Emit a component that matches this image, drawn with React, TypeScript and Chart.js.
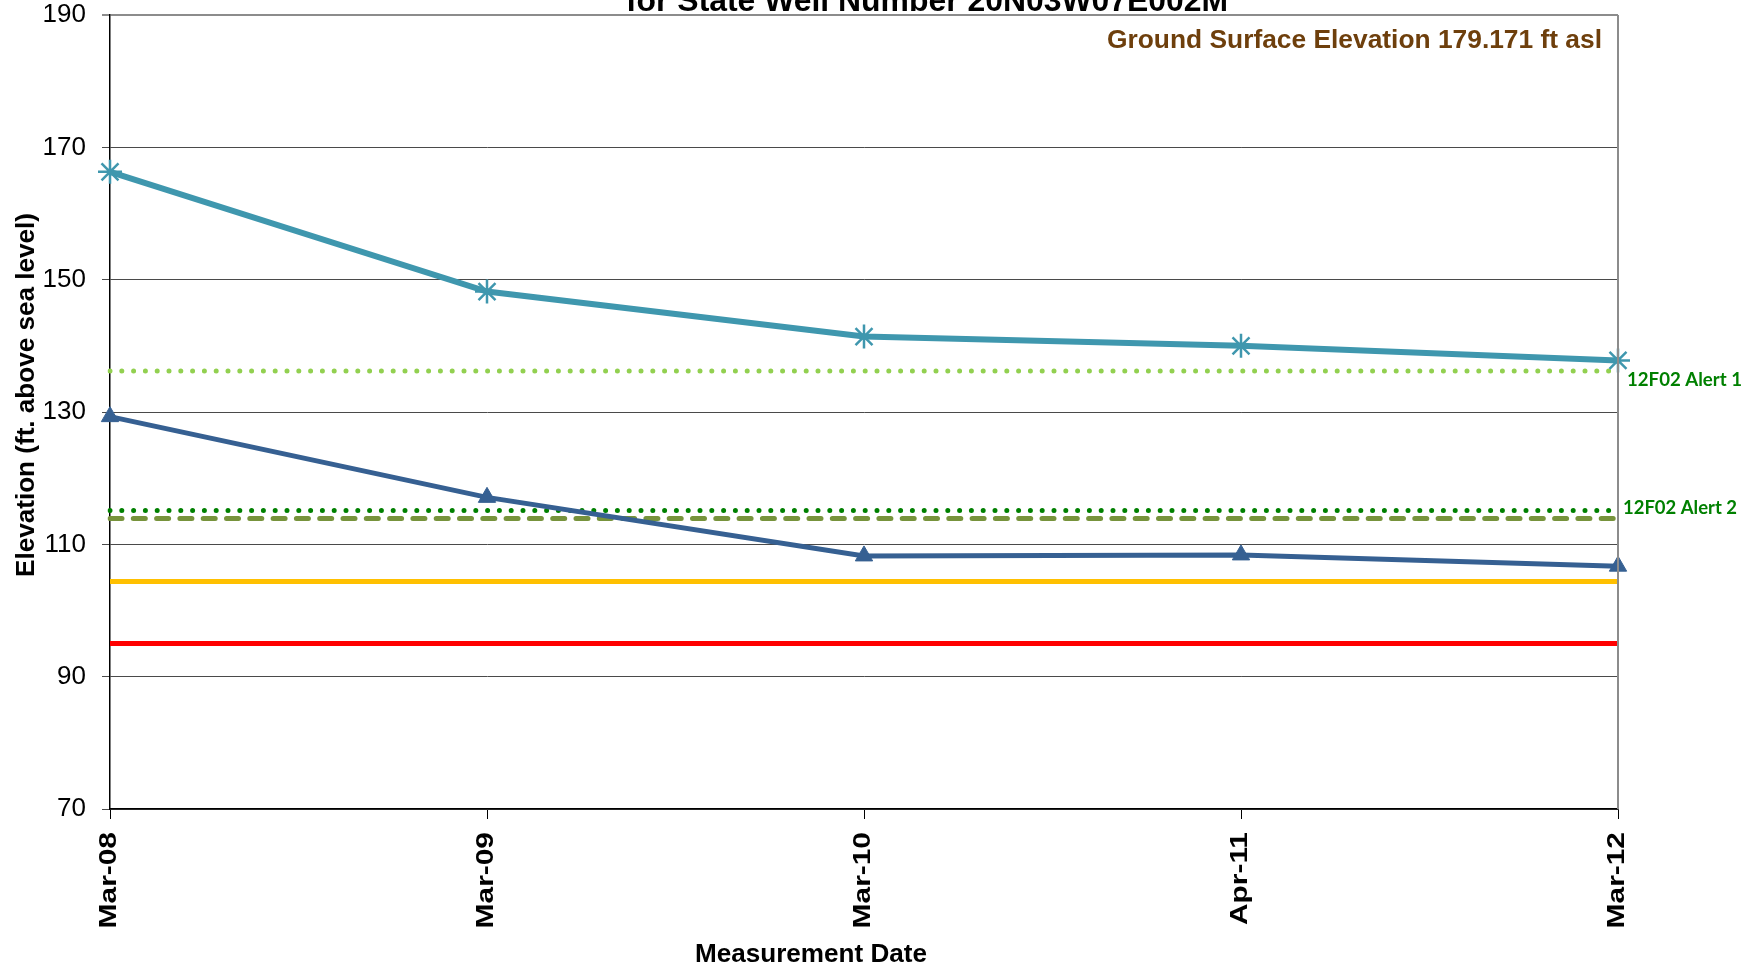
import React, { useEffect, useRef } from "react";
import { Chart, registerables } from "chart.js";

Chart.register(...registerables);

// ---- Data ----
const categories = ["Mar-08", "Mar-09", "Mar-10", "Apr-11", "Mar-12"];
const shallowWell = [166.3, 148.2, 141.4, 140.0, 137.8];
const deepWell = [129.3, 117.1, 108.25, 108.4, 106.7];
const alert1Line = [136.2, 136.2, 136.2, 136.2, 136.2];
const alert2Line = [115.1, 115.1, 115.1, 115.1, 115.1];
const dashedLine = [113.9, 113.9, 113.9, 113.9, 113.9];
const goldLine = [104.4, 104.4, 104.4, 104.4, 104.4];
const redLine = [95.0, 95.0, 95.0, 95.0, 95.0];
const yTicks = [70, 90, 110, 130, 150, 170, 190];

const titleText = "for State Well Number 20N03W07E002M";
const groundText = "Ground Surface Elevation 179.171 ft asl";
const alert1Label = "12F02 Alert 1";
const alert2Label = "12F02 Alert 2";
const xTitle = "Measurement Date";
const yTitle = "Elevation (ft. above sea level)";

const ARIAL = '"Liberation Sans", Arial, sans-serif';

function drawText(
  ctx: CanvasRenderingContext2D,
  text: string,
  x: number,
  y: number,
  font: string,
  color: string,
  align: CanvasTextAlign,
  opts: { rotate?: boolean; width?: number; sx?: number } = {}
) {
  ctx.save();
  ctx.font = font;
  ctx.fillStyle = color;
  ctx.textBaseline = "alphabetic";
  ctx.textAlign = align;
  ctx.translate(x, y);
  if (opts.rotate) ctx.rotate(-Math.PI / 2);
  let s = 1;
  if (opts.width) s = opts.width / ctx.measureText(text).width;
  if (opts.sx) s = opts.sx;
  ctx.scale(s, 1);
  ctx.fillText(text, 0, 0);
  ctx.restore();
}

const decorPlugin = {
  id: "decor",
  afterDraw(chart: any) {
    const ctx: CanvasRenderingContext2D = chart.ctx;
    const area = chart.chartArea;
    const xs = chart.scales.x;
    const ys = chart.scales.y;

    // right border of plot area
    ctx.save();
    ctx.strokeStyle = "#8c8c8c";
    ctx.lineWidth = 2;
    ctx.beginPath();
    ctx.moveTo(area.right, area.top);
    ctx.lineTo(area.right, area.bottom);
    ctx.stroke();
    ctx.restore();

    // x tick labels (rotated)
    categories.forEach((c, i) => {
      const px = xs.getPixelForTick(i);
      drawText(ctx, c, px + 6, area.bottom + 23, `bold 23px ${ARIAL}`, "#000", "right", {
        rotate: true,
        sx: 1.3,
      });
    });

    // title (cut at top)
    drawText(ctx, titleText, 927, 11, `bold 32px ${ARIAL}`, "#000", "center", { width: 602 });

    // ground surface text
    drawText(ctx, groundText, 1107, 48, `bold 26px ${ARIAL}`, "#6e3f0c", "left", { width: 495 });

    // alert labels
    const a1y = ys.getPixelForValue(alert1Line[alert1Line.length - 1]);
    const a2y = ys.getPixelForValue(alert2Line[alert2Line.length - 1]);
    drawText(ctx, alert1Label, area.right + 9, a1y + 15, `bold 18.5px Lato, "Open Sans", sans-serif`, "#008000", "left", {
      width: 115,
    });
    drawText(ctx, alert2Label, area.right + 5, a2y + 3, `bold 18.5px Lato, "Open Sans", sans-serif`, "#008000", "left", {
      width: 114,
    });

    // axis titles
    drawText(ctx, xTitle, 811, 962, `bold 26px ${ARIAL}`, "#000", "center", { width: 232 });
    drawText(ctx, yTitle, 34, 395, `bold 26px ${ARIAL}`, "#000", "center", { rotate: true, width: 364 });
  },
};

export default function App() {
  const ref = useRef<HTMLCanvasElement | null>(null);

  useEffect(() => {
    if (!ref.current) return;
    const flat = (data: number[], color: string, extra: any = {}) => ({
      data,
      borderColor: color,
      backgroundColor: color,
      borderWidth: 5,
      pointRadius: 0,
      pointHoverRadius: 0,
      fill: false,
      tension: 0,
      order: 2,
      ...extra,
    });
    const chart = new Chart(ref.current, {
      type: "line",
      data: {
        labels: categories,
        datasets: [
          {
            data: shallowWell,
            borderColor: "#3f97ae",
            backgroundColor: "#3f97ae",
            borderWidth: 6,
            pointStyle: "star",
            pointRadius: 12,
            pointBorderWidth: 2.5,
            pointBorderColor: "#3f97ae",
            tension: 0,
            clip: false,
            order: 0,
          },
          {
            data: deepWell,
            borderColor: "#366092",
            backgroundColor: "#366092",
            borderWidth: 5,
            pointStyle: "triangle",
            pointRadius: 10,
            pointBorderWidth: 1,
            pointBorderColor: "#366092",
            pointBackgroundColor: "#366092",
            tension: 0,
            clip: false,
            order: 0,
          },
          flat(alert1Line, "#92d050", { borderDash: [0, 11.8], borderCapStyle: "round" }),
          flat(alert2Line, "#008000", { borderDash: [0, 11.8], borderCapStyle: "round" }),
          flat(dashedLine, "#77933c", { borderDash: [12, 11.3], borderCapStyle: "round", order: 3 }),
          flat(goldLine, "#ffc000"),
          flat(redLine, "#ff0000"),
        ] as any,
      },
      options: {
        responsive: false,
        animation: false,
        events: [],
        layout: { padding: { top: 15, right: 144, left: 0, bottom: 0 } },
        plugins: {
          legend: { display: false },
          tooltip: { enabled: false },
          title: { display: false },
        },
        scales: {
          x: {
            type: "category",
            offset: false,
            grid: {
              display: true,
              drawOnChartArea: false,
              drawTicks: true,
              tickLength: 10,
              color: "#000",
              lineWidth: 1,
            },
            border: { display: true, color: "#000", width: 1.5 },
            ticks: { display: false },
            afterFit: (s: any) => {
              s.height = 159;
              s.paddingLeft = 0;
              s.paddingRight = 0;
            },
          },
          y: {
            min: yTicks[0],
            max: yTicks[yTicks.length - 1],
            afterBuildTicks: (s: any) => {
              s.ticks = yTicks.map((v) => ({ value: v }));
            },
            ticks: {
              color: "#000",
              padding: 16,
              font: { family: ARIAL, size: 26, lineHeight: 1 },
            },
            grid: {
              color: (c: any) => (c.tick && c.tick.value === 190 ? "#8c8c8c" : "#4a4a4a"),
              lineWidth: (c: any) => (c.tick && c.tick.value === 190 ? 2 : 1),
              tickLength: 8,
              drawTicks: true,
            },
            border: { display: true, color: "#000", width: 1.5 },
            afterFit: (s: any) => {
              s.width = 110;
              s.paddingTop = 0;
              s.paddingBottom = 0;
            },
          },
        },
      } as any,
      plugins: [decorPlugin],
    });
    return () => chart.destroy();
  }, []);

  return (
    <div style={{ position: "absolute", left: 0, top: 0, width: 1762, height: 968, background: "#fff" }}>
      <canvas ref={ref} width={1762} height={968} style={{ display: "block" }} />
    </div>
  );
}
